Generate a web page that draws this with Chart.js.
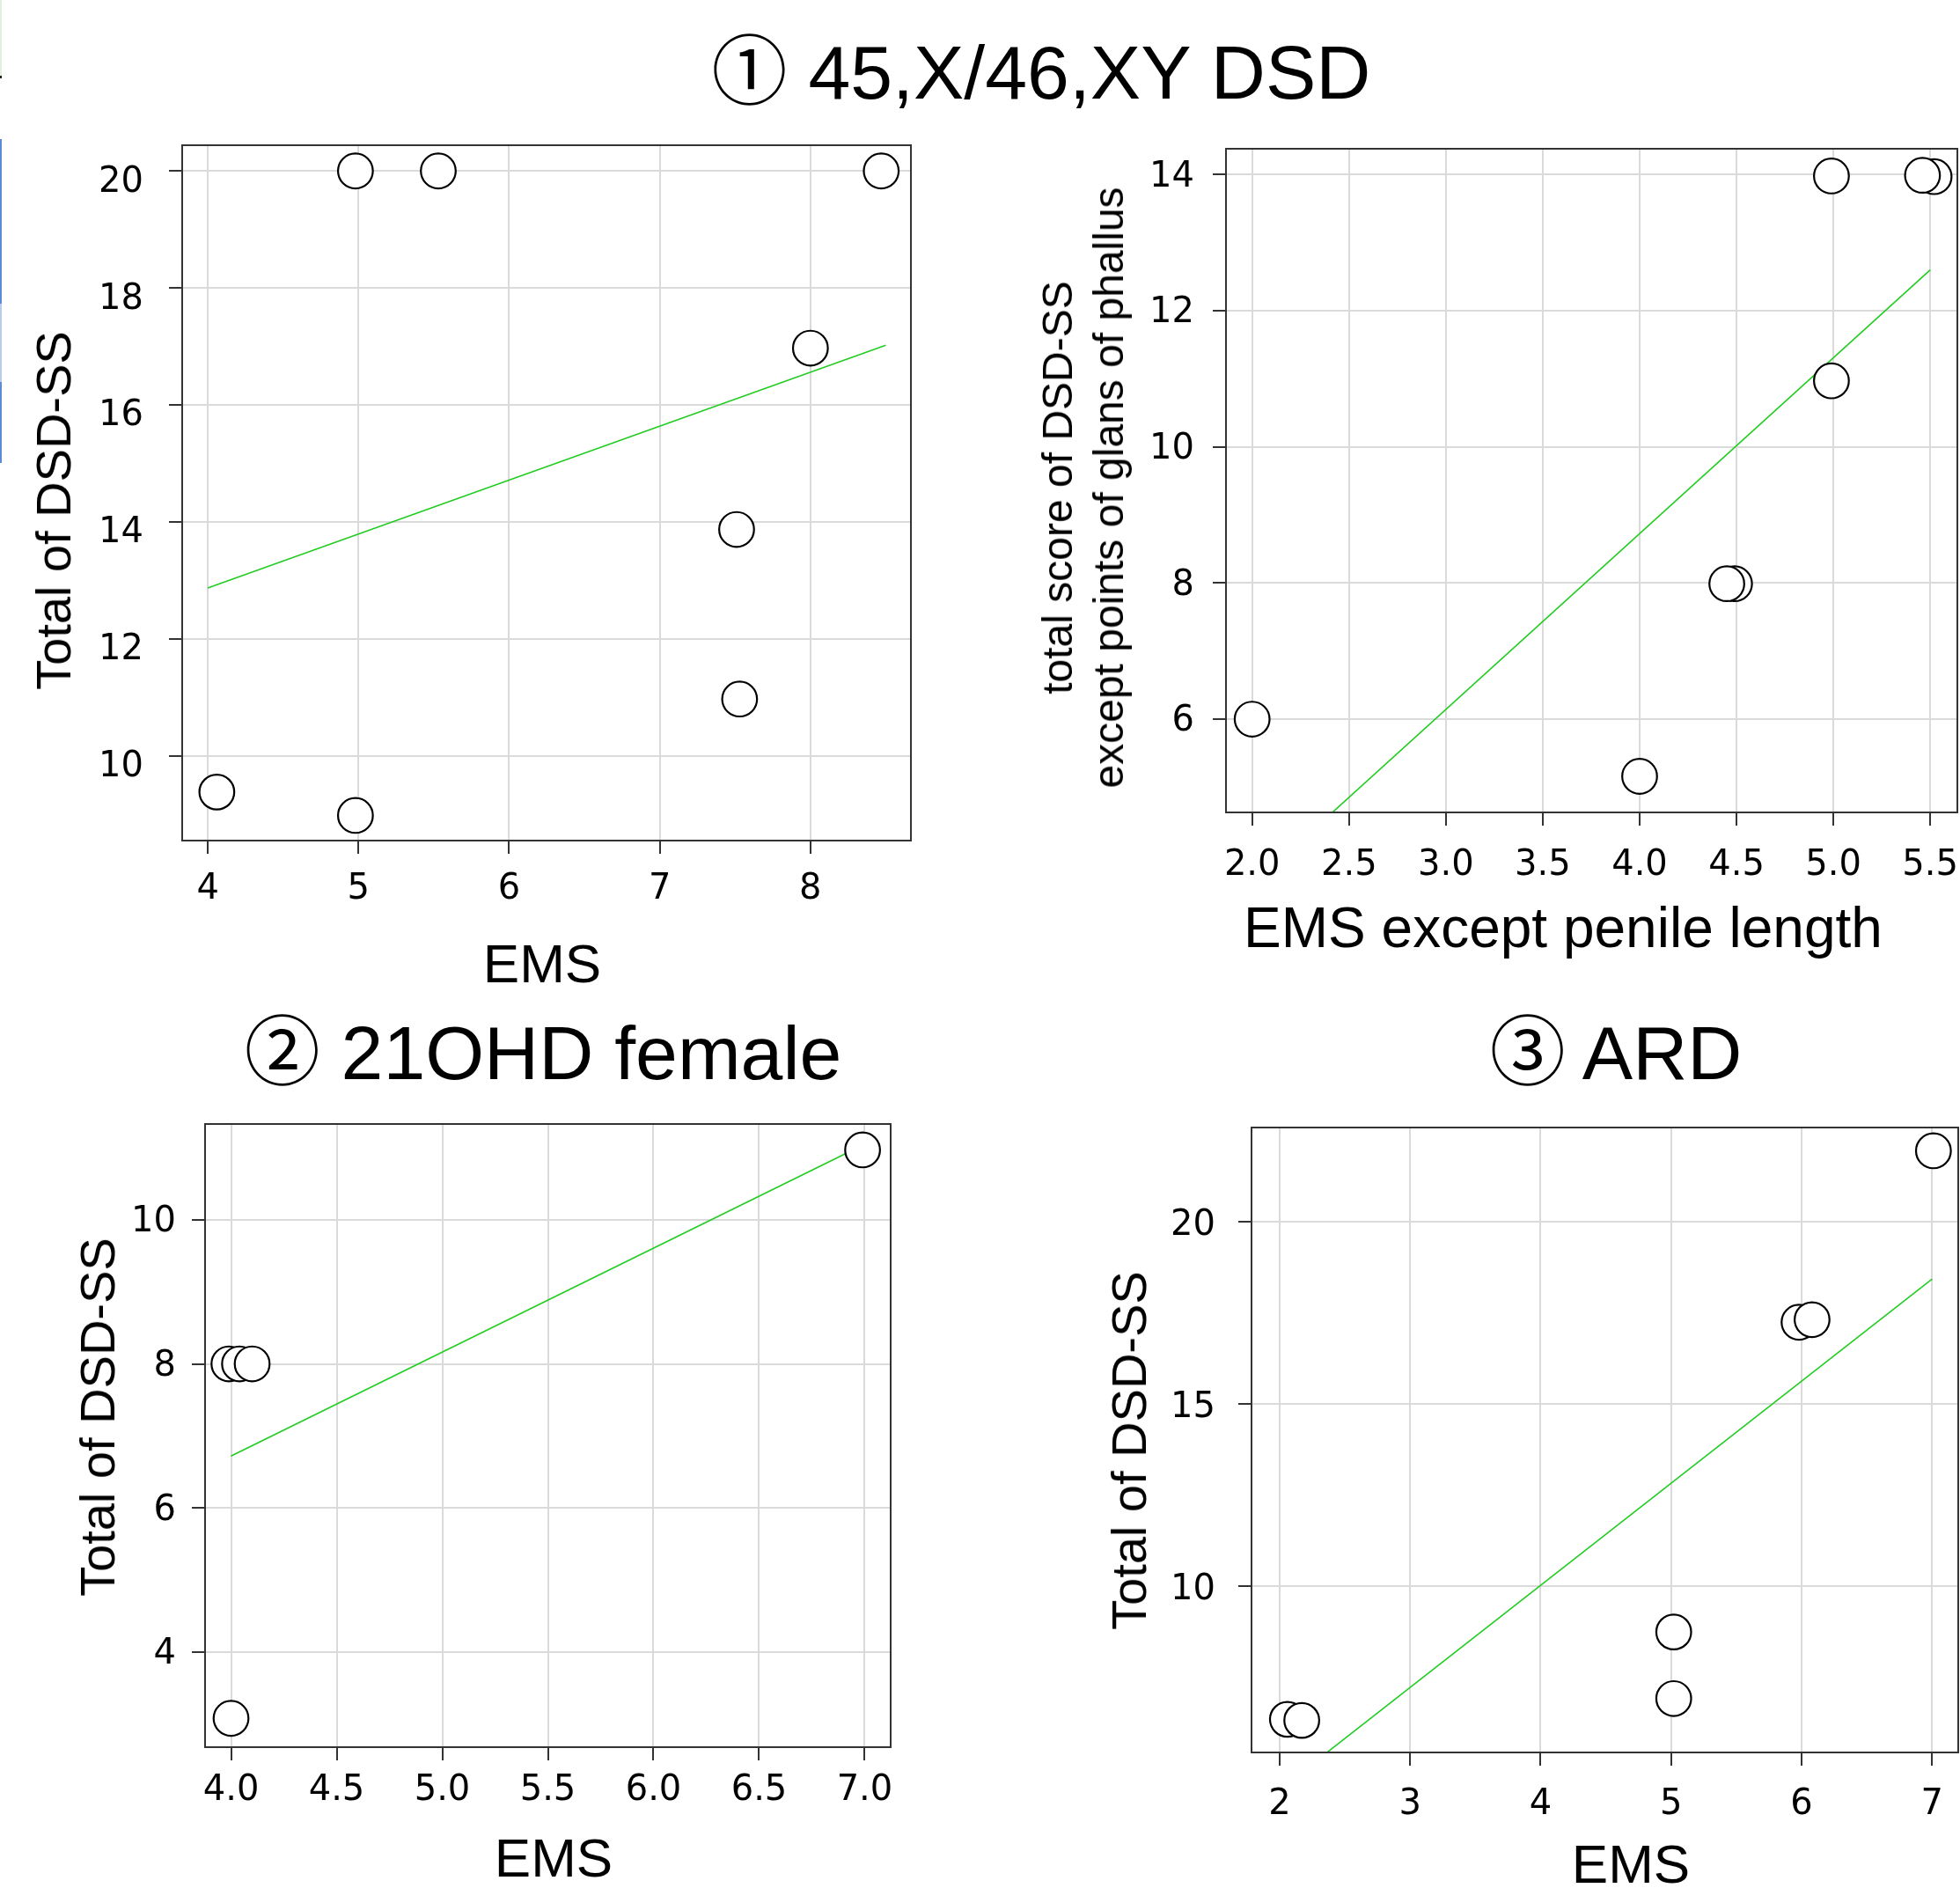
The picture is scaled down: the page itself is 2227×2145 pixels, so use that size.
<!DOCTYPE html>
<html><head><meta charset="utf-8">
<script src="https://cdn.jsdelivr.net/npm/chart.js@4.4.1/dist/chart.umd.min.js"></script>
<style>
html,body{margin:0;padding:0;background:#fff;overflow:hidden;width:2227px;height:2145px;position:relative}
canvas{position:absolute}
.ttl{position:absolute;font-family:"Liberation Sans","Noto Sans CJK JP",sans-serif;font-size:86px;line-height:1;white-space:nowrap;transform:translate(-50%,-50%);color:#000;z-index:5}
.ax{position:absolute;font-family:"Liberation Sans",Arial,sans-serif;line-height:1;white-space:nowrap;color:#000;z-index:5}
.axx{transform:translate(-50%,-50%)}
.axy{transform:translate(-50%,-50%) rotate(-90deg)}
.edge{position:absolute;left:0;width:2px}
</style></head><body>
<div class="edge" style="top:0;height:86px;background:#e3f1dc"></div>
<div class="edge" style="top:86px;height:3px;background:#222"></div>
<div class="edge" style="top:158px;height:187px;background:#5b8bd0"></div>
<div class="edge" style="top:345px;height:89px;background:#b9cdea"></div>
<div class="edge" style="top:434px;height:92px;background:#5b8bd0"></div>

<div class="ttl" style="left:1183px;top:82px">① 45,X/46,XY DSD</div>
<div class="ttl" style="left:617px;top:1196px">② 21OHD female</div>
<div class="ttl" style="left:1836px;top:1196px">③ ARD</div>

<div class="ax axy" style="left:61px;top:580px;font-size:56px">Total of DSD-SS</div>
<div class="ax axx" style="left:616px;top:1095px;font-size:62px">EMS</div>
<div class="ax axy" style="left:1202px;top:554px;font-size:48px">total score of DSD-SS</div>
<div class="ax axy" style="left:1260px;top:554px;font-size:48px">except points of glans of phallus</div>
<div class="ax axx" style="left:1776px;top:1054px;font-size:64px">EMS except penile length</div>
<div class="ax axy" style="left:111px;top:1610px;font-size:56px">Total of DSD-SS</div>
<div class="ax axx" style="left:629px;top:2111px;font-size:62px">EMS</div>
<div class="ax axy" style="left:1283px;top:1648px;font-size:56px">Total of DSD-SS</div>
<div class="ax axx" style="left:1853px;top:2118px;font-size:62px">EMS</div>

<script>
// ---- Panel 1: 45,X/46,XY DSD ----
const p1EMS   = [4.06, 4.98, 4.98, 5.53, 7.51, 7.53, 8.00, 8.47];
const p1Total = [9.38, 8.98, 20.0, 20.0, 13.87, 10.97, 16.97, 20.0];
const p1FitX  = [4.0, 8.5];
const p1FitY  = [12.87, 17.02];
const p1XTicks = [4, 5, 6, 7, 8];
const p1XLabels = ['4', '5', '6', '7', '8'];
const p1YTicks = [10, 12, 14, 16, 18, 20];
const p1YLabels = ['10', '12', '14', '16', '18', '20'];

// ---- Panel 1b: EMS except penile length ----
const p2EMS   = [2.0, 4.0, 4.49, 4.45, 4.99, 4.99, 5.52, 5.46];
const p2Score = [6.0, 5.16, 7.99, 7.99, 10.97, 13.98, 13.97, 13.99];
const p2FitX  = [2.0, 5.5];
const p2FitY  = [3.56, 12.6];
const p2XTicks = [2.0, 2.5, 3.0, 3.5, 4.0, 4.5, 5.0, 5.5];
const p2XLabels = ['2.0', '2.5', '3.0', '3.5', '4.0', '4.5', '5.0', '5.5'];
const p2YTicks = [6, 8, 10, 12, 14];
const p2YLabels = ['6', '8', '10', '12', '14'];

// ---- Panel 2: 21OHD female ----
const p3EMS   = [4.0, 3.99, 4.04, 4.10, 6.99];
const p3Total = [3.08, 8.0, 8.0, 8.0, 10.97];
const p3FitX  = [4.0, 7.0];
const p3FitY  = [6.72, 11.05];
const p3XTicks = [4.0, 4.5, 5.0, 5.5, 6.0, 6.5, 7.0];
const p3XLabels = ['4.0', '4.5', '5.0', '5.5', '6.0', '6.5', '7.0'];
const p3YTicks = [4, 6, 8, 10];
const p3YLabels = ['4', '6', '8', '10'];

// ---- Panel 3: ARD ----
const p4EMS   = [2.06, 2.17, 5.02, 5.02, 5.98, 6.08, 7.01];
const p4Total = [6.33, 6.30, 8.73, 6.90, 17.24, 17.31, 21.95];
const p4FitX  = [2.0, 7.0];
const p4FitY  = [4.40, 18.43];
const p4XTicks = [2, 3, 4, 5, 6, 7];
const p4XLabels = ['2', '3', '4', '5', '6', '7'];
const p4YTicks = [10, 15, 20];
const p4YLabels = ['10', '15', '20'];

const TICK_SIZE = 40;
const tickFont = {family: 'DejaVu Sans', size: TICK_SIZE};
const PAD = 30;

const boxPlugin = {
  id: 'box',
  afterDraw(chart) {
    const {ctx, chartArea: a} = chart;
    ctx.save();
    ctx.strokeStyle = '#333';
    ctx.lineWidth = 2;
    ctx.strokeRect(a.left, a.top, a.right - a.left, a.bottom - a.top);
    ctx.restore();
  }
};

function panel(o) {
  const c = document.createElement('canvas');
  c.width = o.cw; c.height = o.ch;
  c.style.left = o.cx + 'px'; c.style.top = o.cy + 'px';
  c.style.width = o.cw + 'px'; c.style.height = o.ch + 'px';
  document.body.appendChild(c);
  const pts = o.xs.map((x, i) => ({x: x, y: o.ys[i]}));
  const fit = o.fx.map((x, i) => ({x: x, y: o.fy[i]}));
  const grid = {color: '#dadada', lineWidth: 2, tickLength: 15, tickColor: '#333', tickWidth: 2, drawTicks: true};
  // y labels sit slightly below their tick in the original: a leading empty line
  // moves each label down by half of the (small) line height.
  const yFont = {family: 'DejaVu Sans', size: TICK_SIZE, lineHeight: (2 * o.yShift) / TICK_SIZE};
  new Chart(c, {
    type: 'scatter',
    data: {datasets: [
      {data: pts, pointStyle: 'circle', pointRadius: 19.8, pointBorderWidth: 2.2,
       pointBorderColor: '#000', pointBackgroundColor: '#fff', showLine: false},
      {data: fit, showLine: true, borderColor: '#22cc22', borderWidth: 1.6,
       pointRadius: 0, fill: false}
    ]},
    options: {
      responsive: false, animation: false, events: [],
      layout: {padding: {left: 0, top: PAD, right: PAD, bottom: 0}},
      plugins: {legend: {display: false}, tooltip: {enabled: false}},
      scales: {
        x: {
          type: 'linear', position: 'bottom', min: o.xmin, max: o.xmax,
          afterBuildTicks: s => { s.ticks = o.xt.map(v => ({value: v})); },
          afterFit: s => { s.height = o.hx; s.paddingLeft = 0; s.paddingRight = 0; },
          ticks: {font: tickFont, color: '#000', padding: o.xtp, autoSkip: false,
                  maxRotation: 0, minRotation: 0, callback: (v, i) => o.xl[i]},
          grid: grid, border: {display: false}
        },
        y: {
          type: 'linear', position: 'left', min: o.ymin, max: o.ymax,
          afterBuildTicks: s => { s.ticks = o.yt.map(v => ({value: v})); },
          afterFit: s => { s.width = o.wy; s.paddingTop = 0; s.paddingBottom = 0; },
          ticks: {font: yFont, color: '#000', padding: o.ytp, autoSkip: false,
                  callback: (v, i) => ['', o.yl[i]]},
          grid: grid, border: {display: false}
        }
      }
    },
    plugins: [boxPlugin]
  });
}

// box edges (page px): P1 L207 T165 R1035 B955; P2 L1393 T169 R2224 B923;
// P3 L233 T1277 R1012 B1985; P4 L1422 T1281 R2225 B1991
panel({cx: 0, cy: 165 - PAD, cw: 1035 + PAD, ch: PAD + 790 + 100, wy: 207, hx: 100, ytp: 29, xtp: 17, yShift: 13,
  xs: p1EMS, ys: p1Total, fx: p1FitX, fy: p1FitY,
  xmin: 3.83, xmax: 8.667, ymin: 8.55, ymax: 20.44,
  xt: p1XTicks, xl: p1XLabels, yt: p1YTicks, yl: p1YLabels});

panel({cx: 1150, cy: 169 - PAD, cw: 2224 - 1150 + PAD, ch: PAD + 754 + 100, wy: 243, hx: 100, ytp: 21, xtp: 22, yShift: 3,
  xs: p2EMS, ys: p2Score, fx: p2FitX, fy: p2FitY,
  xmin: 1.865, xmax: 5.64, ymin: 4.63, ymax: 14.38,
  xt: p2XTicks, xl: p2XLabels, yt: p2YTicks, yl: p2YLabels});

panel({cx: 0, cy: 1277 - PAD, cw: 1012 + PAD, ch: PAD + 708 + 100, wy: 233, hx: 100, ytp: 18, xtp: 11, yShift: 3,
  xs: p3EMS, ys: p3Total, fx: p3FitX, fy: p3FitY,
  xmin: 3.877, xmax: 7.123, ymin: 2.68, ymax: 11.33,
  xt: p3XTicks, xl: p3XLabels, yt: p3YTicks, yl: p3YLabels});

panel({cx: 1150, cy: 1281 - PAD, cw: 2225 - 1150 + PAD, ch: PAD + 710 + 100, wy: 272, hx: 100, ytp: 26, xtp: 21, yShift: 5,
  xs: p4EMS, ys: p4Total, fx: p4FitX, fy: p4FitY,
  xmin: 1.785, xmax: 7.2, ymin: 5.42, ymax: 22.59,
  xt: p4XTicks, xl: p4XLabels, yt: p4YTicks, yl: p4YLabels});
</script>
</body></html>
